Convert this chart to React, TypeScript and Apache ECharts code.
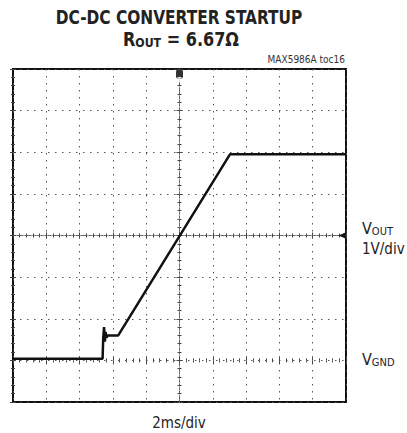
import React, { useEffect, useRef } from "react";
import * as echarts from "echarts";

// time in ms (2 ms/div, 10 div), voltage in V (1 V/div, ground at 0)
const timeMs = [0, 5.38, 5.42, 5.47, 5.52, 5.56, 5.62, 5.7, 6.32, 13.03, 20];
const voutV = [0.04, 0.04, 0.55, 0.8, 0.45, 0.68, 0.55, 0.6, 0.6, 4.95, 4.95];

const xMin = 0, xMax = 20, xStep = 2;
const yMin = -1, yMax = 7, yStep = 1;

const FONT = "'Liberation Sans Narrow', 'DejaVu Sans Condensed', 'Liberation Sans', sans-serif";

export default function App() {
  const ref = useRef<HTMLDivElement>(null);
  useEffect(() => {
    if (!ref.current) return;
    const chart = echarts.init(ref.current, undefined, { renderer: "svg" });
    const gridRect = { left: 13, top: 69, width: 333, height: 333 };
    const dotted = { color: "#555", width: 1, type: [1.5, 5.5] as any };
    const tickStyle = { color: "#444", width: 1 };
    const borderAxisX = (pos: string) => ({
      type: "value", gridIndex: 0, min: xMin, max: xMax, interval: xStep, position: pos,
      axisLine: { show: false }, axisLabel: { show: false },
      axisTick: { show: true, inside: true, length: 3, lineStyle: tickStyle },
      minorTick: { show: true, splitNumber: 5, length: 2, lineStyle: tickStyle },
      splitLine: { show: pos === "bottom", lineStyle: dotted },
    });
    const borderAxisY = (pos: string) => ({
      type: "value", gridIndex: 0, min: yMin, max: yMax, interval: yStep, position: pos,
      axisLine: { show: false }, axisLabel: { show: false },
      axisTick: { show: true, inside: true, length: 3, lineStyle: tickStyle },
      minorTick: { show: true, splitNumber: 5, length: 2, lineStyle: tickStyle },
      splitLine: { show: pos === "left", lineStyle: dotted },
    });
    const centerX = (g: number, inside: boolean) => ({
      type: "value", gridIndex: g, min: -10, max: 10, interval: 2,
      axisLine: { show: true, onZero: true, lineStyle: { color: "#666", width: 1, type: [2, 2] } },
      axisLabel: { show: false },
      axisTick: { show: true, inside, length: 3, lineStyle: tickStyle },
      minorTick: { show: true, splitNumber: 5, length: 2, lineStyle: tickStyle },
      splitLine: { show: false },
    });
    const centerY = (g: number, inside: boolean) => ({
      type: "value", gridIndex: g, min: -4, max: 4, interval: 1,
      axisLine: { show: true, onZero: true, lineStyle: { color: "#666", width: 1, type: [2, 2] } },
      axisLabel: { show: false },
      axisTick: { show: true, inside, length: 3, lineStyle: tickStyle },
      minorTick: { show: true, splitNumber: 5, length: 2, lineStyle: tickStyle },
      splitLine: { show: false },
    });
    chart.setOption({
      animation: false,
      backgroundColor: "#fff",
      grid: [
        { ...gridRect, show: true, borderColor: "#111", borderWidth: 2, backgroundColor: "transparent" },
        { ...gridRect },
        { ...gridRect },
      ],
      xAxis: [
        borderAxisX("bottom"),
        borderAxisX("top"),
        centerX(1, true),
        centerX(2, false),
      ],
      yAxis: [
        borderAxisY("left"),
        borderAxisY("right"),
        centerY(1, true),
        centerY(2, false),
      ],
      series: [
        {
          type: "line",
          xAxisIndex: 0,
          yAxisIndex: 0,
          data: timeMs.map((t, i) => [t, voutV[i]]),
          showSymbol: false,
          lineStyle: { color: "#111", width: 2.5 },
          z: 10,
          markPoint: {
            silent: true,
            data: [
              {
                coord: [10, 7],
                symbol: "roundRect",
                symbolSize: [7, 9],
                symbolOffset: [0, 5],
                itemStyle: { color: "#333" },
                label: { show: true, formatter: "T", color: "#fff", fontSize: 7, fontWeight: "bold", offset: [0, 5] },
              },
              {
                coord: [20, 3],
                symbol: "triangle",
                symbolRotate: 90,
                symbolSize: [6, 7],
                symbolOffset: [-4, 0],
                itemStyle: { color: "#111" },
                label: { show: false },
              },
            ],
          },
        },
      ],
      graphic: [
        {
          type: "text", x: 179, y: 17, scaleX: 0.9,
          style: { text: "DC-DC CONVERTER STARTUP", font: `bold 19px ${FONT}`, fill: "#222", align: "center", verticalAlign: "middle" },
        },
        {
          type: "text", x: 181, y: 39, scaleX: 0.94,
          style: {
            text: "{a|R}{b|OUT}{a| = 6.67Ω}", align: "center", verticalAlign: "middle",
            rich: {
              a: { font: `bold 19px ${FONT}`, fill: "#222", verticalAlign: "bottom", lineHeight: 20 },
              b: { font: `bold 13px ${FONT}`, fill: "#222", verticalAlign: "bottom", lineHeight: 20 },
            },
          },
        },
        {
          type: "text", x: 345, y: 59,
          style: { text: "MAX5986A toc16", font: `10px ${FONT}`, fill: "#333", align: "right", verticalAlign: "middle" },
        },
        {
          type: "text", x: 362, y: 228,
          style: {
            text: "{a|V}{b|OUT}", align: "left", verticalAlign: "middle",
            rich: {
              a: { font: `16px ${FONT}`, fill: "#222", verticalAlign: "bottom", lineHeight: 17 },
              b: { font: `11px ${FONT}`, fill: "#222", verticalAlign: "bottom", lineHeight: 15 },
            },
          },
        },
        {
          type: "text", x: 362, y: 249,
          style: { text: "1V/div", font: `15px ${FONT}`, fill: "#222", align: "left", verticalAlign: "middle" },
        },
        {
          type: "text", x: 362, y: 359,
          style: {
            text: "{a|V}{b|GND}", align: "left", verticalAlign: "middle",
            rich: {
              a: { font: `16px ${FONT}`, fill: "#222", verticalAlign: "bottom", lineHeight: 17 },
              b: { font: `11px ${FONT}`, fill: "#222", verticalAlign: "bottom", lineHeight: 15 },
            },
          },
        },
        {
          type: "text", x: 179, y: 423,
          style: { text: "2ms/div", font: `15px ${FONT}`, fill: "#222", align: "center", verticalAlign: "middle" },
        },
      ],
    });
    return () => chart.dispose();
  }, []);
  return <div ref={ref} style={{ position: "fixed", left: 0, top: 0, width: 407, height: 433 }} />;
}
